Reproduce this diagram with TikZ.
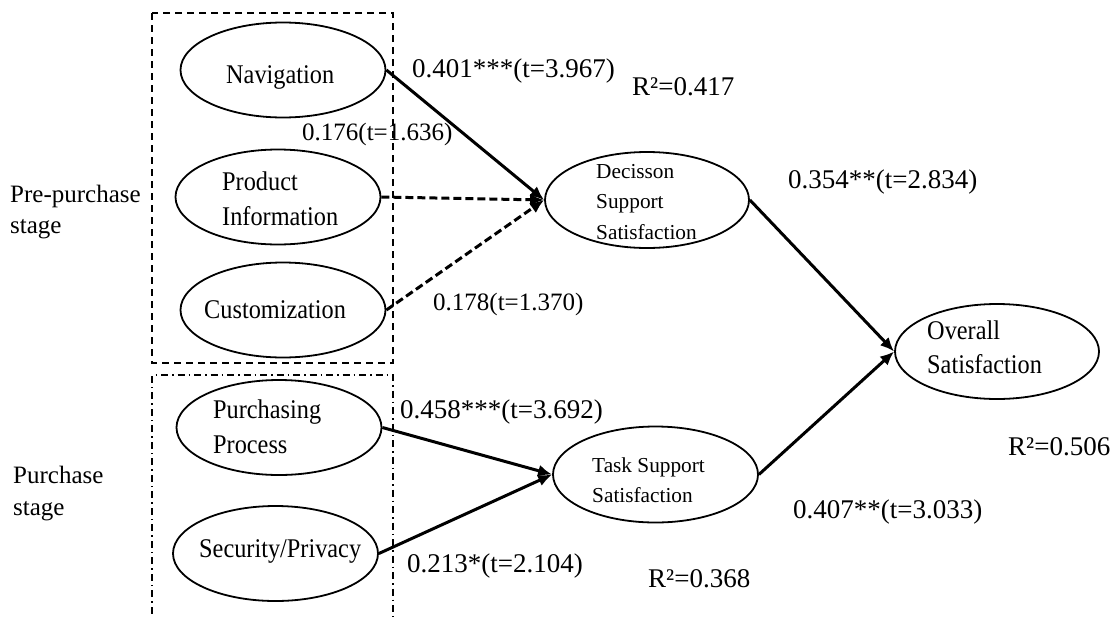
\documentclass[tikz,border=0pt]{standalone}
\usepackage{fontspec}
\setmainfont{Liberation Serif}
\newfontfamily\condserif{Liberation Serif}[FakeStretch=0.9]
\usetikzlibrary{shapes.geometric,arrows.meta}
\tikzset{
  latent/.style={draw, ellipse, line width=1.8pt, inner sep=0pt, minimum width=205pt, minimum height=95pt},
  nodetxt/.style={anchor=base west, inner sep=0pt, font=\condserif\fontsize{27}{32}\selectfont},
  smalltxt/.style={anchor=base west, inner sep=0pt, font=\fontsize{21.3}{25}\selectfont},
  coef/.style={anchor=base west, inner sep=0pt, font=\fontsize{27}{32}\selectfont},
  coefns/.style={anchor=base west, inner sep=0pt, font=\fontsize{25}{30}\selectfont},
  stagetxt/.style={anchor=base west, inner sep=0pt, font=\fontsize{25}{30}\selectfont},
  path/.style={line width=3pt, -{Latex[length=14pt,width=12pt]}},
  nspath/.style={line width=3pt, dash pattern=on 8pt off 4pt, -{Latex[length=14pt,width=12pt]}},
  prebox/.style={line width=1.8pt, dash pattern=on 7pt off 5pt},
  purbox/.style={line width=1.8pt, dash pattern=on 7pt off 4pt on 1.5pt off 4pt},
}
\begin{document}
\begin{tikzpicture}[x=1pt,y=-1pt]
\useasboundingbox (0,0) rectangle (1115,616);
\fill[white] (0,0) rectangle (1115,616);

% stage boxes
\draw[prebox] (152,13) rectangle (393,363);
\draw[purbox] (152,630) -- (152,375) -- (393,375) -- (393,630);

% ellipses
\node[latent] (nav) at (283,70) {};
\node[latent] (prod) at (278,197) {};
\node[latent] (cust) at (283,310) {};
\node[latent] (purch) at (279,427.5) {};
\node[latent] (sec) at (275.5,553.5) {};
\node[latent, minimum width=204pt, minimum height=96pt] (dss) at (647,200) {};
\node[latent, minimum width=205pt, minimum height=96pt] (tss) at (655.5,474.5) {};
\node[latent, minimum width=204pt, minimum height=95pt] (ovr) at (997,351.5) {};

% ellipse texts
\node[nodetxt] (tnav) at (226,83) {Navigation};
\node[nodetxt] (tprod1) at (222,190) {Product};
\node[nodetxt] (tprod2) at (222,225) {Information};
\node[nodetxt] (tcust) at (204,318) {Customization};
\node[nodetxt] (tpur1) at (213,418) {Purchasing};
\node[nodetxt] (tpur2) at (213,453) {Process};
\node[nodetxt] (tsec) at (199,557) {Security/Privacy};
\node[smalltxt] (tdss1) at (596,178) {Decisson};
\node[smalltxt] (tdss2) at (596,208) {Support};
\node[smalltxt] (tdss3) at (596,239) {Satisfaction};
\node[smalltxt] (ttss1) at (592,472) {Task Support};
\node[smalltxt] (ttss2) at (592,502) {Satisfaction};
\node[nodetxt] (tovr1) at (927,339) {Overall};
\node[nodetxt] (tovr2) at (927,373) {Satisfaction};

% stage labels
\node[stagetxt] (pre1) at (10,202) {Pre-purchase};
\node[stagetxt] (pre2) at (10,233) {stage};
\node[stagetxt] (pur1) at (13,483) {Purchase};
\node[stagetxt] (pur2) at (13,515) {stage};

% paths
\draw[path] (nav.east) -- (dss.west);
\draw[nspath] (prod.east) -- (dss.west);
\draw[nspath] (cust.east) -- (dss.west);
\draw[path] (dss.east) -- (ovr.west);
\draw[path] (purch.east) -- (tss.west);
\draw[path] (sec.east) -- (tss.west);
\draw[path] (tss.east) -- (ovr.west);

% coefficients
\node[coef] (c1) at (412,77) {0.401***(t=3.967)};
\node[coef] (r1) at (632,95) {R²=0.417};
\node[coefns] (c2) at (302,140) {0.176(t=1.636)};
\node[coef] (c3) at (788,188) {0.354**(t=2.834)};
\node[coefns] (c4) at (433,310) {0.178(t=1.370)};
\node[coef] (c5) at (400,418) {0.458***(t=3.692)};
\node[coef] (c6) at (407,572) {0.213*(t=2.104)};
\node[coef] (r2) at (648,587) {R²=0.368};
\node[coef] (c7) at (793,518) {0.407**(t=3.033)};
\node[coef] (r3) at (1008,455) {R²=0.506};
\end{tikzpicture}
\end{document}
